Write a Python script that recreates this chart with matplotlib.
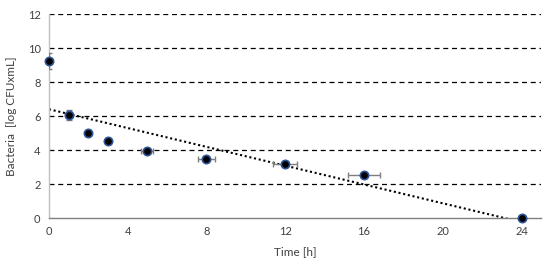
import numpy as np
import matplotlib
matplotlib.use("Agg")
import matplotlib.pyplot as plt

time_h = [0, 1, 2, 3, 5, 8, 12, 16, 24]
bacteria = [9.24, 6.06, 5.0, 4.53, 3.94, 3.45, 3.2, 2.53, 0.0]
yerr = [0.45, 0.3, 0.2, 0.15, 0.1, 0.1, 0.1, 0.1, 0.0]
xerr = [0.0, 0.0, 0.0, 0.0, 0.3, 0.43, 0.61, 0.82, 0.0]
xticks = [0, 4, 8, 12, 16, 20, 24]
yticks = [0, 2, 4, 6, 8, 10, 12]

plt.rcParams['font.family'] = ['Lato', 'DejaVu Sans']
fig = plt.figure(figsize=(5.5, 2.67), dpi=100)
ax = fig.add_axes([0.089, 0.1835, 0.895, 0.764])

for y in yticks[1:]:
    ax.axhline(y, color='black', linestyle=(0, (4, 3)), linewidth=0.9, zorder=1)

coef = np.polyfit(time_h, bacteria, 1)
xx = np.array([0, 24])
ax.plot(xx, np.polyval(coef, xx), color='black', linestyle=(0, (1, 1.3)), linewidth=1.5, zorder=2)

ax.errorbar(time_h, bacteria, yerr=yerr, xerr=xerr, fmt='none', ecolor='#7f7f7f',
            elinewidth=1, capsize=2.5, capthick=1, zorder=3)
ax.scatter(time_h, bacteria, s=36, color='black', edgecolors='#2f5597', linewidths=1.2,
           zorder=4, clip_on=False)

ax.set_xlim(0, 25)
ax.set_ylim(0, 12)
ax.set_xticks(xticks)
ax.set_yticks(yticks)
ax.tick_params(length=0, labelsize=8, labelcolor='#404040', pad=6)
for s in ['top', 'right']:
    ax.spines[s].set_visible(False)
ax.spines['left'].set_color('#bfbfbf')
ax.spines['bottom'].set_color('#7f7f7f')
ax.spines['left'].set_linewidth(1)
ax.spines['bottom'].set_linewidth(1)
ax.set_xlabel('Time [h]', fontsize=8.5, color='#404040', labelpad=6)
ax.set_ylabel('Bacteria  [log CFUxmL]', fontsize=8.5, color='#404040', labelpad=8)

fig.savefig('out.png', dpi=100)
